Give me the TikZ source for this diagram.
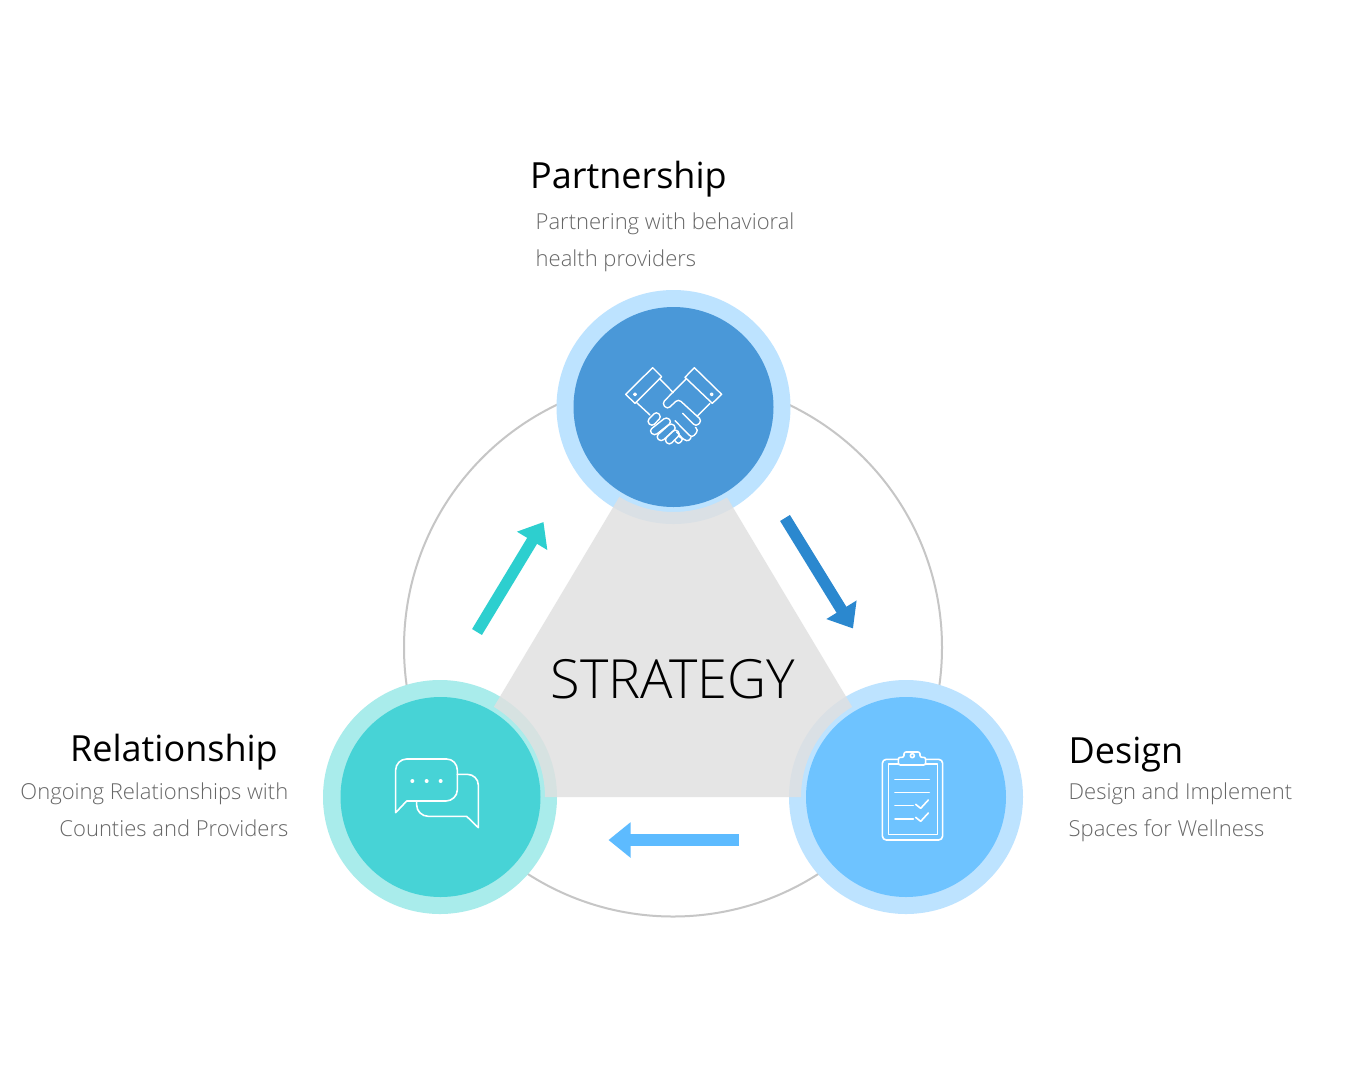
\documentclass[tikz,border=0pt]{standalone}
\usepackage{fontspec}
\setmainfont{Open Sans}
\newfontfamily\lightfont{Open Sans Light}
\usetikzlibrary{arrows.meta,positioning}
\definecolor{TopDark}{HTML}{4A98D8}
\definecolor{SkyPale}{HTML}{BDE3FF}
\definecolor{TealDark}{HTML}{47D3D6}
\definecolor{TealPale}{HTML}{A9ECEB}
\definecolor{SkyDark}{HTML}{6EC3FF}
\definecolor{RingGray}{HTML}{C6C6C6}
\definecolor{TriGray}{HTML}{E0E0E0}
\definecolor{SubGray}{HTML}{666666}
\definecolor{ArrTeal}{HTML}{2DCFCF}
\definecolor{ArrBlue}{HTML}{2B88CF}
\definecolor{ArrSky}{HTML}{5DBBFF}
\tikzset{
  halo/.style={circle, minimum size=234pt, inner sep=0pt},
  disc/.style={circle, minimum size=200pt, inner sep=0pt},
  blockarr/.style={-{Triangle[length=22pt, width=34pt]}, line width=11.5pt},
  headline/.style={font=\fontsize{36}{36}\selectfont, text=black, inner sep=0pt},
  subline/.style={font=\lightfont\fontsize{22}{37}\selectfont, text=SubGray, inner sep=0pt},
  iconline/.style={draw=white, line width=1.6pt, line join=round, line cap=round}
}
\begin{document}
\begin{tikzpicture}[x=1pt, y=-1pt]
\useasboundingbox (0,0) rectangle (1350,1080);
\fill[white] (0,0) rectangle (1350,1080);
\node[circle, draw=RingGray, line width=2pt, minimum size=538pt, inner sep=0pt] (ring) at (673,647.5) {};
\node[halo, fill=SkyPale] (parthalo) at (673.5,407) {};
\node[halo, fill=TealPale] (relhalo) at (440,797) {};
\node[halo, fill=SkyPale] (deshalo) at (906,797) {};
\begin{scope}[even odd rule]
\clip (0,0) rectangle (1350,1080) (673.5,407) circle (105) (440,797) circle (105) (906,797) circle (105);
\fill[TriGray, opacity=.83] (673,407) -- (906,797) -- (440,797) -- cycle;
\end{scope}
\node[disc, fill=TopDark] (part) at (673.5,407) {};
\node[disc, fill=TealDark] (rel) at (440.5,797) {};
\node[disc, fill=SkyDark] (des) at (906,797) {};
\node[font=\lightfont\fontsize{54}{54}\selectfont, text=black, inner sep=0pt] (strategy) at (673,679) {STRATEGY};
\coordinate (a1) at (477,632);
\coordinate (a2) at (543.5,522);
\coordinate (b1) at (785,518);
\coordinate (b2) at (853,628.5);
\coordinate (c1) at (738.5,840);
\coordinate (c2) at (608.5,840);
\draw[blockarr, ArrTeal] (a1) -- (a2);
\draw[blockarr, ArrBlue] (b1) -- (b2);
\draw[blockarr, ArrSky] (c1) -- (c2);
\node[headline, anchor=base west] (parttitle) at (530,188) {Partnership};
\node[subline, anchor=base west, align=left] (parttext) at (535.5,266) {Partnering with behavioral\\health providers};
\node[headline, anchor=base east] (reltitle) at (278,761) {Relationship};
\node[subline, anchor=base east, align=right] (reltext) at (288.5,836) {Ongoing Relationships with\\Counties and Providers};
\node[headline, anchor=base west] (destitle) at (1068.5,763) {Design};
\node[subline, anchor=base west, align=left] (destext) at (1068.5,836) {Design and Implement\\Spaces for Wellness};
\begin{scope}[shift={(610,350)}, x=.3333pt, y=-.3333pt, iconline, line width=1.4pt]
\draw (128,53) -- (155,80) -- (75,160) -- (47,133) -- cycle;
\draw (253,53) -- (225,82) -- (307,160) -- (335,133) -- cycle;
\draw (75,129) -- (79,133) -- (75,137) -- (71,133) -- cycle;
\draw (305,129) -- (309,133) -- (305,137) -- (301,133) -- cycle;
\draw (148,85) -- (190,128);
\draw (80,158) -- (120,195);
\draw (300,160) -- (262,198);
\draw[rounded corners=3.5pt] (230,85) -- (156,160) -- (172,178) -- (205,147) -- (276,212) -- (258,230) -- (218,190);
\draw[rounded corners=3.5pt] (256,232) -- (266,240) -- (246,264) -- (195,212);
\draw[rounded corners=3pt] (243,262) -- (238,274) -- (222,270) -- (200,246);
\draw[rounded corners=2.5pt] (205,258) -- (220,268) -- (205,283) -- (193,270);
\foreach \fx/\fy/\gx/\gy in {118/222/147/192, 125/250/178/208, 145/268/192/226, 170/278/204/244}
  \draw[rounded corners=3.5pt] (\fx-8,\fy-8) -- (\gx-8,\gy-8) -- (\gx+8,\gy+8) -- (\fx+8,\fy+8) -- cycle;
\end{scope}
\begin{scope}[shift={(380,745)}, x=.3333pt, y=-.3333pt, iconline]
\draw (47,203) -- (47,75) .. controls (47,57) and (62,42) .. (80,42) -- (200,42) .. controls (218,42) and (232,57) .. (232,75) -- (232,135) .. controls (232,153) and (216,168) .. (198,168) -- (80,168) -- cycle;
\draw (232,88) -- (262,88) .. controls (280,88) and (295,102) .. (295,120) -- (295,248) -- (260,214) -- (145,214) .. controls (125,214) and (110,198) .. (110,180) -- (110,168);
\foreach \dotx in {97,140,182}
  \fill[white] (\dotx,108) circle (6);
\end{scope}
\begin{scope}[shift={(865,740)}, x=.3333pt, y=-.3333pt, iconline]
\draw[rounded corners=4pt] (100,58) -- (52,58) -- (52,300) -- (233,300) -- (233,58) -- (182,58);
\draw (100,72) -- (70,72) -- (70,283) -- (217,283) -- (217,72) -- (182,72);
\draw[rounded corners=2pt] (100,75) -- (182,75) -- (182,52) -- (165,52) -- (165,36) -- (117,36) -- (117,52) -- (100,52) -- cycle;
\draw (142,47) circle (6);
\draw (90,118) -- (193,118);
\draw (90,158) -- (193,158);
\draw (90,197) -- (145,197);
\draw (90,237) -- (145,237);
\draw (152,193) -- (167,205) -- (190,180);
\draw (152,232) -- (167,244) -- (190,219);
\end{scope}
\end{tikzpicture}
\end{document}
